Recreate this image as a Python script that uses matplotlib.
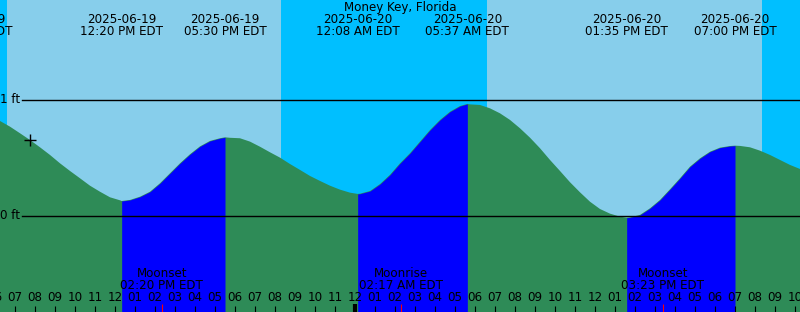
import numpy as np
import matplotlib
matplotlib.use("Agg")
import matplotlib.pyplot as plt

plt.rcParams['font.family'] = ['DejaVu Sans']

# hours counted from 2025-06-19 00:00 EDT
t_start = 6.25
t_end = 46.25

# tide height (ft) read every half hour from t_start
grid_heights = [0.819, 0.770, 0.713, 0.655, 0.592, 0.526, 0.454, 0.388, 0.325, 0.261,
                0.209, 0.161, 0.135, 0.138, 0.166, 0.209, 0.282, 0.368, 0.454, 0.532,
                0.600, 0.647, 0.670, 0.674, 0.670, 0.641, 0.597, 0.549, 0.503, 0.448,
                0.397, 0.345, 0.302, 0.261, 0.227, 0.201, 0.192, 0.215, 0.275, 0.355,
                0.454, 0.541, 0.641, 0.741, 0.828, 0.899, 0.948, 0.962, 0.957, 0.928,
                0.885, 0.828, 0.756, 0.675, 0.584, 0.483, 0.388, 0.291, 0.204, 0.123,
                0.060, 0.020, -0.006, -0.012, 0.009, 0.066, 0.138, 0.230, 0.325, 0.425,
                0.497, 0.554, 0.589, 0.603, 0.604, 0.592, 0.563, 0.526, 0.483, 0.440,
                0.405]

# high / low tides
ext_times = [12.333, 17.5, 24.133, 29.617, 37.583, 43.0]
ext_heights = [0.129, 0.678, 0.190, 0.966, -0.015, 0.606]
ext_dates = ["2025-06-19", "2025-06-19", "2025-06-20", "2025-06-20", "2025-06-20", "2025-06-20"]
ext_labels = ["12:20 PM EDT", "05:30 PM EDT", "12:08 AM EDT", "05:37 AM EDT", "01:35 PM EDT", "07:00 PM EDT"]
prev_time = 4.8
prev_date = "2025-06-19"
prev_label = "04:48 AM EDT"

# sun
sunrise = [6.6, 30.6]
sunset = [20.3, 44.35]

# moon
moon_times = [14.333, 26.283, 39.383]
moon_names = ["Moonset", "Moonrise", "Moonset"]
moon_labels = ["02:20 PM EDT", "02:17 AM EDT", "03:23 PM EDT"]

now_time = 7.75
now_height = 0.655

title = "Money Key, Florida"

grid_times = np.arange(len(grid_heights)) * 0.5 + t_start
t = np.concatenate([grid_times, ext_times])
h = np.concatenate([grid_heights, ext_heights])
order = np.argsort(t)
t = t[order]
h = h[order]

ymin, ymax = -0.828, 1.862

fig = plt.figure(figsize=(8, 3.12), dpi=100)
ax = fig.add_axes([0, 0, 1, 1])
ax.set_xlim(t_start, t_end)
ax.set_ylim(ymin, ymax)
ax.axis('off')

night = "#00BFFF"
day = "#87CEEB"
ax.axvspan(t_start - 5, t_end + 5, color=night, lw=0)
for r, s in zip(sunrise, sunset):
    ax.axvspan(r, s, color=day, lw=0)

ax.fill_between(t, ymin, h, color="#2E8B57", lw=0)
# rising tide in blue
for i in range(len(ext_times) - 1):
    if ext_heights[i + 1] > ext_heights[i]:
        m = (t >= ext_times[i]) & (t <= ext_times[i + 1])
        ax.fill_between(t[m], ymin, h[m], color="#0000FF", lw=0)

for lvl, txt in [(1, "1 ft"), (0, "0 ft")]:
    ax.axhline(lvl, xmin=0.0275, xmax=1, color="black", lw=1)
    ax.text(0.025, lvl, txt, transform=ax.get_yaxis_transform(), ha="right", va="center", fontsize=8.6)

ax.plot([now_time], [now_height], marker="+", color="black", ms=9, mew=1)

fs = 8.6
xt = ax.get_xaxis_transform()
ax.text(0.5, 0.976, title, transform=ax.transAxes, ha="center", va="center", fontsize=fs)
for tt, d, lab in zip([prev_time] + ext_times, [prev_date] + ext_dates, [prev_label] + ext_labels):
    ax.text(tt, 0.938, d, transform=xt, ha="center", va="center", fontsize=fs, clip_on=False)
    ax.text(tt, 0.899, lab, transform=xt, ha="center", va="center", fontsize=fs, clip_on=False)

for tt, n, lab in zip(moon_times, moon_names, moon_labels):
    ax.text(tt, 0.124, n, transform=xt, ha="center", va="center", fontsize=fs)
    ax.text(tt, 0.0865, lab, transform=xt, ha="center", va="center", fontsize=fs)

hours = np.arange(6, 47)
for hr in hours:
    lab = "%02d" % (12 if hr % 12 == 0 else hr % 12)
    ax.text(hr, 0.0465, lab, transform=xt, ha="center", va="center", fontsize=fs, clip_on=False)
    if hr % 24 == 0:
        ax.vlines(hr, 0, 8 / 312, transform=xt, color="black", lw=3)
    else:
        ax.vlines(hr, 0, 6 / 312, transform=xt, color="black", lw=0.8)
ax.vlines(moon_times, 0, 8 / 312, transform=xt, color="red", lw=0.8)

fig.savefig("out.png", dpi=100)
